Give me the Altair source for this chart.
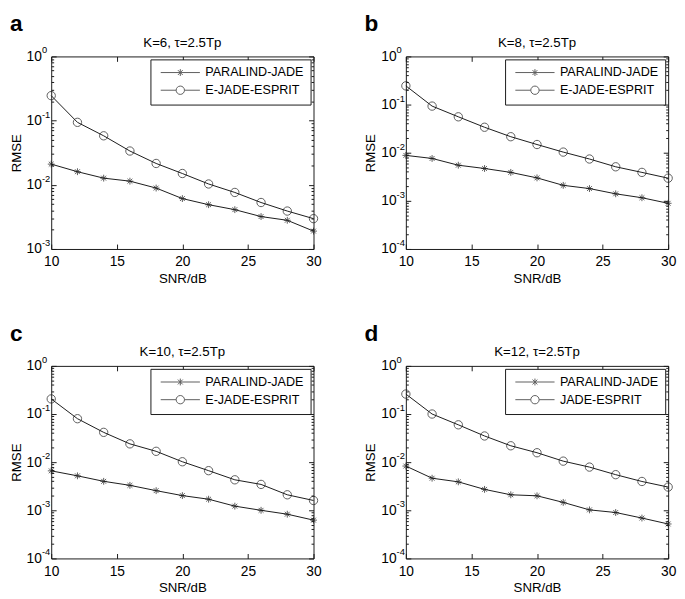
import altair as alt
import pandas as pd

snr = [10, 12, 14, 16, 18, 20, 22, 24, 26, 28, 30]

a_paralind = [0.021, 0.016, 0.0127, 0.0114, 0.0089, 0.0061, 0.0049, 0.0041, 0.0032, 0.0028, 0.0019]
a_ejade = [0.245, 0.094, 0.058, 0.0336, 0.0215, 0.015, 0.0103, 0.0076, 0.0053, 0.0039, 0.00297]
b_paralind = [0.0088, 0.0076, 0.0055, 0.0047, 0.0039, 0.0030, 0.0021, 0.0018, 0.0014, 0.00116, 0.00089]
b_ejade = [0.245, 0.093, 0.0557, 0.0338, 0.0215, 0.0148, 0.0103, 0.0074, 0.0051, 0.0039, 0.00296]
c_paralind = [0.0066, 0.0052, 0.0040, 0.0033, 0.00256, 0.00202, 0.0017, 0.00122, 0.0010, 0.00083, 0.000625]
c_ejade = [0.206, 0.080, 0.0416, 0.024, 0.0168, 0.0102, 0.00666, 0.0043, 0.00345, 0.0021, 0.0016]
d_paralind = [0.0083, 0.00464, 0.0039, 0.00272, 0.0021, 0.0020, 0.00146, 0.00102, 0.00090, 0.00069, 0.00052]
d_jade = [0.26, 0.10, 0.0597, 0.035, 0.0219, 0.0157, 0.0105, 0.0079, 0.0055, 0.00397, 0.00304]

panel_letters = ["a", "b", "c", "d"]
panel_titles = ["K=6, \u03c4=2.5Tp", "K=8, \u03c4=2.5Tp", "K=10, \u03c4=2.5Tp", "K=12, \u03c4=2.5Tp"]
names_abc = ["PARALIND-JADE", "E-JADE-ESPRIT"]
names_d = ["PARALIND-JADE", "JADE-ESPRIT"]

x_ticks = [10, 15, 20, 25, 30]
y_ticks_a = [0.001, 0.01, 0.1, 1]
y_exp_a = ["-3", "-2", "-1", "0"]
y_ticks_bcd = [0.0001, 0.001, 0.01, 0.1, 1]
y_exp_bcd = ["-4", "-3", "-2", "-1", "0"]
minor_mult = [2, 3, 4, 5, 6, 7, 8, 9]

W, H = 267, 196
FONT = "Liberation Sans"
INK = "#1a1a1a"

STAR = "M0,-0.82V0.82M-0.82,0H0.82M-0.58,-0.58L0.58,0.58M-0.58,0.58L0.58,-0.58"
STAR_LEG = "M-4.7,0H4.7M0,-0.82V0.82M-0.58,-0.58L0.58,0.58M-0.58,0.58L0.58,-0.58"
CIRC_LEG = "M-4.7,0H-1M1,0H4.7M1,0A1,1,0,1,1,-1,0A1,1,0,1,1,1,0"


def panel(letter, title, names, s1, s2, yt, ye):
    df = pd.DataFrame({
        "snr": snr + snr,
        "rmse": s1 + s2,
        "series": [names[0]] * len(snr) + [names[1]] * len(snr),
    })
    lo = yt[0]
    minor = [m * d for d in yt[:-1] for m in minor_mult]
    xs = alt.Scale(domain=[10, 30], nice=False)
    ys = alt.Scale(type="log", domain=[lo, 1], nice=False)
    base = alt.Chart(df)

    def X(axis):
        return alt.X("snr:Q", scale=xs, axis=axis)

    def Y(axis):
        return alt.Y("rmse:Q", scale=ys, axis=axis)

    def tick_axis(orient, offset, values, size):
        return alt.Axis(orient=orient, offset=offset, values=values, labels=False,
                        ticks=True, tickSize=size, tickColor=INK, domain=False,
                        grid=False, title=None)

    line = base.mark_line(color=INK, strokeWidth=1).encode(
        x=X(alt.Axis(orient="bottom", values=x_ticks, title="SNR/dB", ticks=False,
                     tickSize=0, labelPadding=6, titlePadding=3, domain=False,
                     grid=False, labelFlush=False)),
        y=Y(alt.Axis(orient="left", values=yt, labelExpr="'10'", title="RMSE",
                     ticks=False, tickSize=0, labelPadding=10, titlePadding=3,
                     domain=False, grid=False)),
        detail="series:N",
    )
    pts = base.mark_point(filled=False, color=INK, strokeWidth=1, size=72).encode(
        x=X(tick_axis("top", -H, x_ticks, 5)),
        y=Y(tick_axis("right", -W, yt, 5)),
        shape=alt.Shape("series:N", scale=alt.Scale(domain=names, range=[STAR, "circle"]),
                        legend=None),
    )
    leg = base.mark_point(filled=False, color=INK, strokeWidth=1).encode(
        x=X(tick_axis("bottom", -H, x_ticks, 5)),
        y=Y(tick_axis("left", -W, yt, 5)),
        shape=alt.Shape("series:N", scale=alt.Scale(domain=names, range=[STAR_LEG, CIRC_LEG]),
                        legend=alt.Legend(title=None, orient="top-right", offset=3, padding=7,
                                          strokeColor=INK, fillColor="white", cornerRadius=0,
                                          symbolSize=72, symbolOffset=17, labelOffset=19,
                                          symbolStrokeWidth=1, symbolStrokeColor=INK,
                                          labelFont=FONT, labelFontSize=12.8, labelColor="black",
                                          rowPadding=4)),
        size=alt.value(0),
    )
    minor_l = base.mark_point(size=0).encode(
        x=X(None),
        y=Y(tick_axis("right", -W, minor, 2.5)),
    )
    minor_r = base.mark_point(size=0).encode(
        x=X(None),
        y=Y(tick_axis("left", -W, minor, 2.5)),
    )
    exp_df = pd.DataFrame({"v": yt, "e": ye})
    expo = alt.Chart(exp_df).mark_text(align="left", baseline="middle", fontSize=9.5,
                                       font=FONT, color="black", dx=-9.5, dy=-6).encode(
        x=alt.X(datum=10, scale=xs, axis=None),
        y=alt.Y("v:Q", scale=ys, axis=None),
        text="e:N")
    ttl_df = pd.DataFrame({"t": [title]})
    ttl = alt.Chart(ttl_df).mark_text(align="center", baseline="alphabetic", fontSize=13.5,
                                      font=FONT, color="black", dy=-10).encode(
        x=alt.X(datum=20, scale=xs, axis=None),
        y=alt.Y(datum=1, scale=ys, axis=None),
        text="t:N")
    let_df = pd.DataFrame({"t": [letter]})
    lett = alt.Chart(let_df).mark_text(align="left", baseline="alphabetic", fontSize=23,
                                       fontWeight="bold", font=FONT, color="black",
                                       dx=-42, dy=-25.5).encode(
        x=alt.X(datum=10, scale=xs, axis=None),
        y=alt.Y(datum=1, scale=ys, axis=None),
        text="t:N")

    return alt.layer(line, pts, leg, minor_l, minor_r, expo, ttl, lett).properties(
        width=W, height=H,
    ).resolve_scale(shape="independent").resolve_axis(x="independent", y="independent")


pa = panel(panel_letters[0], panel_titles[0], names_abc, a_paralind, a_ejade, y_ticks_a, y_exp_a)
pb = panel(panel_letters[1], panel_titles[1], names_abc, b_paralind, b_ejade, y_ticks_bcd, y_exp_bcd)
pc = panel(panel_letters[2], panel_titles[2], names_abc, c_paralind, c_ejade, y_ticks_bcd, y_exp_bcd)
pd_ = panel(panel_letters[3], panel_titles[3], names_d, d_paralind, d_jade, y_ticks_bcd, y_exp_bcd)

chart = alt.vconcat(
    alt.hconcat(pa, pb, spacing=41),
    alt.hconcat(pc, pd_, spacing=41),
    spacing=38,
).properties(padding=0).configure_view(stroke=INK, strokeWidth=1).configure_axis(
    labelFont=FONT, labelFontSize=14, labelColor="black",
    titleFont=FONT, titleFontSize=13.5, titleFontWeight="normal", titleColor="black",
)

chart.save("out.html", embed_options={"renderer": "svg", "actions": False})
